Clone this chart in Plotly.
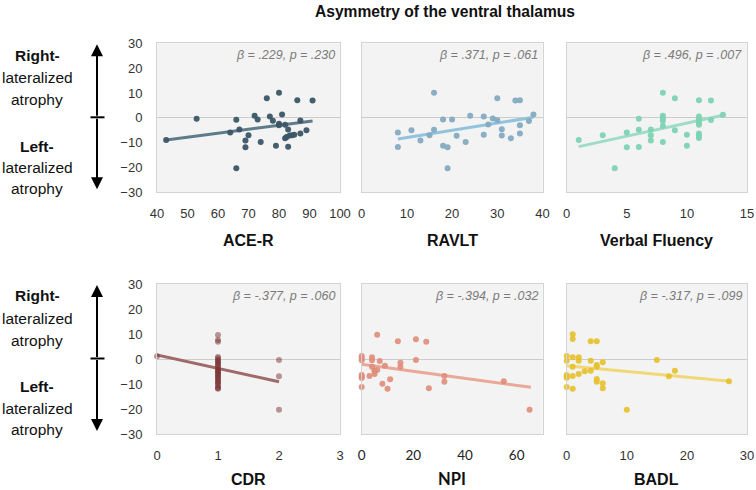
import plotly.graph_objects as go

# ---------------- data ----------------
title_text = "Asymmetry of the ventral thalamus"

ace_x = [43, 53, 66, 66, 64, 67, 70, 69, 69, 72, 73, 74, 76, 77, 78, 79, 80, 80, 80, 81, 82, 82, 82.5, 83, 83, 83.5, 84.3, 85, 86, 87, 87, 89, 91]
ace_y = [-8.9, -0.4, -0.8, -20.3, -5.9, -4.7, -7.0, -9.1, -11.9, 0.8, -0.7, -9.7, 7.9, 0.5, -1.2, -11.3, 10.1, -2.4, -3.0, 1.3, -2.8, -8.2, -7.7, -4.7, -11.7, -7.1, -7.0, -6.8, 7.1, -6.3, -1.1, -5.0, 7.0]
ace_fit_x = [43, 91]
ace_fit_y = [-8.9, -1.3]

ravlt_x = [8, 8, 11, 13, 15, 16, 16, 18, 18, 19, 19, 20, 21, 23, 24, 27, 27, 28, 29, 30, 30, 31, 31, 33, 34, 35, 35, 35, 37, 38]
ravlt_y = [-5.9, -11.8, -5.0, -9.1, -7.0, 10.1, -4.8, -0.7, -11.3, -11.9, -20.3, -0.7, -7.2, -9.7, 0.8, 0.5, -6.8, -2.7, -0.3, 7.9, -1.0, -4.6, -7.1, -8.2, 7.0, 7.1, -3.0, -6.3, -1.3, 1.3]
ravlt_fit_x = [8, 38]
ravlt_fit_y = [-8.5, 0.2]

vf_x = [1, 3, 4, 5, 5, 6, 6, 6, 7, 7, 7, 8, 8, 8, 8, 8, 8, 9, 9, 10, 10, 11, 11, 11, 11, 11, 11, 11, 11, 12, 12, 13]
vf_y = [-8.9, -7.0, -20.3, -5.9, -11.9, -0.4, -4.8, -11.8, -4.7, -7.0, -9.1, 10.1, 0.8, -0.1, -1.2, -3.2, -9.7, 7.9, -5.0, -6.8, -11.3, 7.1, 0.5, -0.7, -1.7, -2.8, -6.3, -7.1, -8.1, 7.0, -0.9, 1.2]
vf_fit_x = [1, 13]
vf_fit_y = [-11.6, 1.0]

cdr_x = [0, 1, 1, 1, 1, 1, 1, 1, 1, 1, 1, 1, 1, 1, 1, 1, 1, 1, 1, 1, 1, 1, 1, 1, 1, 1, 1, 1, 1, 1, 2, 2, 2]
cdr_y = [1.1, 9.6, 7.6, 6.9, 0.8, 0.3, -0.4, -0.8, -1.3, -1.8, -2.4, -2.8, -3.5, -4.4, -4.7, -5.0, -5.5, -5.9, -6.4, -6.8, -7.3, -7.7, -8.4, -8.9, -9.5, -9.7, -11.3, -11.7, -11.9, -10.5, -0.4, -6.9, -20.3]
cdr_fit_x = [0, 2]
cdr_fit_y = [1.6, -9.1]

npi_x = [0, 0, 0, 0, 0, 0, 0, 3, 4, 4, 4, 5, 5, 5, 6, 6, 7, 8, 9, 10, 11, 14, 15, 15, 21, 21, 25, 26, 32, 32, 55, 65]
npi_y = [1.2, 0.4, -0.5, -6.4, -7.1, -7.6, -11.2, -6.8, 0.7, -0.5, -3.1, -4.7, -6.0, -4.7, 9.7, -4.4, -0.8, -9.9, -2.7, -11.9, -8.1, 7.1, -1.5, -3.1, 7.9, -0.4, 6.9, -11.7, -6.8, -9.1, -8.9, -20.3]
npi_fit_x = [0, 65.5]
npi_fit_y = [-2.1, -11.3]

badl_x = [0, 0, 0, 0, 0, 0, 1, 1, 1, 1, 1, 1, 2, 2, 2, 3, 4, 4, 4, 5, 5, 5, 5, 5, 6, 6, 6, 10, 15, 17, 18, 27]
badl_y = [1.2, -0.7, -6.4, -7.1, -7.5, -11.2, 9.9, 8.0, 0.7, -3.1, -6.8, -11.9, 0.7, -0.7, -6.0, -4.9, 7.1, -0.7, -4.7, 7.1, -2.4, -3.1, -8.0, -9.1, -1.3, -9.7, -11.7, -20.3, -0.4, -6.9, -4.7, -8.9]
badl_fit_x = [0, 27.2]
badl_fit_y = [-2.7, -8.9]

panel_names = ["ACE-R", "RAVLT", "Verbal Fluency", "CDR", "NPI", "BADL"]
panel_stats = ["β = .229, p = .230", "β = .371, p = .061", "β = .496, p = .007",
               "β = -.377, p = .060", "β = -.394, p = .032", "β = -.317, p = .099"]
x_ranges = [[40, 100], [0, 40], [0, 15], [0, 3], [0, 70], [0, 30]]
x_dticks = [10, 10, 5, 1, 20, 10]
y_range = [-30, 30]
y_dtick = 10

# ---------------- style ----------------
W, H = 756, 490


def px(x):
    return x / W


def py(y):
    return 1 - y / H


FONT = "Liberation Sans, Arial, sans-serif"
marker_colors = ["#3b5566", "#84aac0", "#7dd3b4", "#7a3434", "#e08c7a", "#e6c02a"]
marker_opac = [0.95, 0.95, 0.95, 0.5, 0.9, 0.9]
line_colors = ["#5f7b8a", "#92c3dd", "#9edcc7", "#a06a6a", "#eaa898", "#f0d878"]

col_px = [(157, 340), (361.7, 542.5), (566.7, 747)]
row_px = [(43.3, 192.3), (284, 434)]
title_gap = [48, 45]

datasets = [(ace_x, ace_y, ace_fit_x, ace_fit_y),
            (ravlt_x, ravlt_y, ravlt_fit_x, ravlt_fit_y),
            (vf_x, vf_y, vf_fit_x, vf_fit_y),
            (cdr_x, cdr_y, cdr_fit_x, cdr_fit_y),
            (npi_x, npi_y, npi_fit_x, npi_fit_y),
            (badl_x, badl_y, badl_fit_x, badl_fit_y)]

fig = go.Figure()
layout = dict(width=W, height=H, margin=dict(l=0, r=0, t=0, b=0, autoexpand=False),
              paper_bgcolor="white", plot_bgcolor="#f3f3f3",
              showlegend=False, font=dict(family=FONT, color="#333333"))
annotations = []
shapes = []

for i, (xs, ys, fx, fy) in enumerate(datasets):
    r, c = divmod(i, 3)
    n = i + 1
    xa = "x" if n == 1 else f"x{n}"
    ya = "y" if n == 1 else f"y{n}"
    fig.add_trace(go.Scatter(x=fx, y=fy, mode="lines", xaxis=xa, yaxis=ya,
                             line=dict(color=line_colors[i], width=3), hoverinfo="skip"))
    fig.add_trace(go.Scatter(x=xs, y=ys, mode="markers", xaxis=xa, yaxis=ya, cliponaxis=False,
                             marker=dict(color=marker_colors[i], size=6, opacity=marker_opac[i],
                                         line=dict(width=0))))
    x0, x1 = col_px[c]
    y0, y1 = row_px[r]
    tickfont = dict(family=FONT, size=13, color="#333333")
    if i == 4:
        tickfont = dict(family="Lato, Noto Sans, sans-serif", size=13.5, color="#222222")
    layout["xaxis" if n == 1 else f"xaxis{n}"] = dict(
        domain=[px(x0), px(x1)], anchor=ya, range=x_ranges[i], dtick=x_dticks[i], tick0=0,
        showgrid=False, zeroline=False, showline=True, mirror=True, linecolor="#d3d3d3",
        linewidth=1, ticks="", ticklabelstandoff=9, tickfont=tickfont, fixedrange=True,
        automargin=False)
    layout["yaxis" if n == 1 else f"yaxis{n}"] = dict(
        domain=[py(y1), py(y0)], anchor=xa, range=y_range, dtick=y_dtick,
        showgrid=False, zeroline=True, zerolinecolor="#cccccc", zerolinewidth=1,
        showline=True, mirror=True, linecolor="#d3d3d3", linewidth=1, ticks="",
        showticklabels=(c == 0), ticklabelstandoff=11,
        tickfont=dict(family=FONT, size=13, color="#333333"), fixedrange=True,
        automargin=False)
    # stats annotation
    annotations.append(dict(xref=f"{xa} domain", yref=f"{ya} domain", x=1, y=1,
                            xanchor="right", yanchor="top", xshift=-3, yshift=-3,
                            text=f"<i>{panel_stats[i]}</i>", showarrow=False,
                            font=dict(family=FONT, size=12.5, color="#7a7a7a")))
    # axis title
    tfont = dict(family=FONT, size=16, color="#111111")
    if i == 4:
        tfont = dict(family="Lato, Noto Sans, sans-serif", size=16.5, color="#111111")
    annotations.append(dict(xref="paper", yref="paper", x=px((x0 + x1) / 2),
                            y=py(y1 + title_gap[r]), xanchor="center", yanchor="middle",
                            text=f"<b>{panel_names[i]}</b>", showarrow=False, font=tfont))

# title
annotations.append(dict(xref="paper", yref="paper", x=px(445), y=py(11),
                        xanchor="center", yanchor="middle", showarrow=False,
                        text=f"<b>{title_text}</b>",
                        font=dict(family="Liberation Sans Narrow, Arial Narrow, Liberation Sans, sans-serif",
                                  size=15.6, color="#111111")))

# left side labels and arrows
side_lines = [("<b>Right-</b>", 55), ("lateralized", 77.5), ("atrophy", 99.5),
              ("<b>Left-</b>", 146), ("lateralized", 167.5), ("atrophy", 189)]
for r, (top, bot) in enumerate(row_px):
    off = top - row_px[0][0]
    for txt, yy in side_lines:
        annotations.append(dict(xref="paper", yref="paper", x=px(37), y=py(yy + off),
                                xanchor="center", yanchor="middle", showarrow=False, text=txt,
                                font=dict(family=FONT, size=15.5, color="#111111")))
    mid = (top + bot) / 2 - 0.5
    up_tip = top + 1
    dn_tip = bot - 3
    annotations.append(dict(xref="paper", yref="paper", x=px(97), y=py(up_tip),
                            ax=0, ay=(mid - up_tip), showarrow=True, arrowhead=2,
                            arrowsize=1.2, arrowwidth=2, arrowcolor="#000000", text=""))
    annotations.append(dict(xref="paper", yref="paper", x=px(97), y=py(dn_tip),
                            ax=0, ay=-(dn_tip - mid), showarrow=True, arrowhead=2,
                            arrowsize=1.2, arrowwidth=2, arrowcolor="#000000", text=""))
    shapes.append(dict(type="line", xref="paper", yref="paper", x0=px(90.5), x1=px(104.5),
                       y0=py(mid), y1=py(mid), line=dict(color="#000000", width=2)))

layout["annotations"] = annotations
layout["shapes"] = shapes
fig.update_layout(**layout)
# remove the browser's default 8px body margin so the figure sits at the page corner
fig.write_html("out.html", config={"displayModeBar": False},
               post_script="document.body.style.margin='0px';document.body.style.overflow='hidden';")
